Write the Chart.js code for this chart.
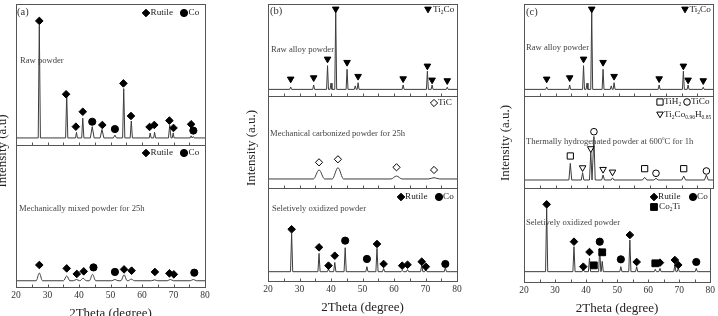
<!DOCTYPE html>
<html>
<head>
<meta charset="utf-8">
<script src="https://cdn.jsdelivr.net/npm/chart.js@4.4.0/dist/chart.umd.min.js"></script>
<style>
html, body { margin: 0; padding: 0; background: #fff; overflow: hidden; }
body { width: 718px; height: 316px; position: relative; }
canvas { position: absolute; top: 0; }
</style>
</head>
<body>
<script>
// x axis
const xTickLabels = [20, 30, 40, 50, 60, 70, 80];
const xTickMarks = [20, 25, 30, 35, 40, 45, 50, 55, 60, 65, 70, 75, 80];

// (a) raw powder
const rawPowderBase = 5;
const rawPowderPeaks = [27.4, 36.1, 39.2, 41.2, 44.2, 47.3, 51.4, 54.2, 56.6, 62.6, 64.0, 68.8, 69.9, 75.6, 76.3];
const rawPowderHeights = [85, 36, 9, 19, 13, 11, 7, 40, 17, 8.5, 9, 14, 8.5, 6.5, 6];
const rawPowderWidths = [0.35, 0.35, 0.3, 0.35, 0.6, 0.6, 0.5, 0.35, 0.35, 0.3, 0.3, 0.4, 0.3, 0.3, 0.3];
const rawPowderRutileX = [27.4, 35.9, 39.0, 41.2, 47.4, 54.1, 56.5, 62.4, 63.9, 68.7, 70.0, 75.6];
const rawPowderRutileY = [88, 36, 13, 23.6, 14.2, 43.7, 20.6, 12.8, 14.2, 17.3, 12.1, 14.7];
const rawPowderCoX = [44.2, 51.4, 76.3];
const rawPowderCoY = [16.5, 11.3, 10.2];

// (a) mechanically mixed powder
const mixedBase = 4.4;
const mixedPeaks = [27.4, 36.1, 39.2, 41.3, 44.3, 51.4, 54.3, 56.6, 64.0, 69.0, 76.3];
const mixedHeights = [9.8, 7.8, 5.3, 6.2, 8.9, 5.3, 8.6, 5.5, 5.0, 5.3, 5.3];
const mixedWidth = 1.0;
const mixedRutileX = [27.4, 36.1, 39.3, 41.5, 54.3, 56.7, 64.1, 68.7, 70.1];
const mixedRutileY = [15.5, 13.1, 9.2, 11.0, 12.4, 11.5, 10.6, 9.6, 8.9];
const mixedCoX = [44.6, 51.4, 76.6];
const mixedCoY = [13.8, 10.6, 10.1];

// (b)/(c) raw alloy powder
const alloyBase = 7.2;
const alloyPeaks = [27.2, 34.5, 38.9, 40.0, 41.5, 45.1, 47.7, 48.6, 62.9, 70.6, 72.1, 76.9];
const alloyHeights = [9.8, 12, 33, 14, 91, 29, 11, 14.5, 12, 27, 12, 9.5];
const alloyWidth = 0.3;
const alloyTi2CoX = [27.2, 34.5, 38.9, 41.5, 45.1, 48.6, 62.9, 70.6, 72.1, 76.9];
const alloyTi2CoY = [18.5, 19.9, 40.2, 94.6, 36.6, 21.4, 18.8, 32.6, 17.4, 16.7];

// (b) mechanical carbonized powder
const carbBase = 9.8;
const carbPeaks = [36.2, 42.2, 60.8, 72.7];
const carbHeights = [19.6, 22.1, 13, 11.2];
const carbWidth = 1.8;
const carbTiCX = [36.2, 42.2, 60.8, 72.7];
const carbTiCY = [27.9, 31.2, 22.5, 19.6];

// (b) selectively oxidized powder
const oxBBase = 10;
const oxBPeaks = [27.5, 36.2, 39.2, 41.2, 44.5, 51.4, 54.6, 56.7, 62.6, 64.3, 68.8, 70.1, 76.3];
const oxBHeights = [51.3, 29.7, 12.9, 20, 35.8, 15.4, 35.1, 13.6, 11.5, 12.2, 17.2, 13, 14.3];
const oxBWidth = 0.35;
const oxBRutileX = [27.5, 36.2, 39.2, 41.2, 54.6, 56.7, 62.6, 64.3, 68.8, 70.1];
const oxBRutileY = [55.6, 36.2, 16.5, 27.2, 39.8, 18.3, 16.5, 17.5, 20.8, 15.4];
const oxBCoX = [44.5, 51.4, 76.3];
const oxBCoY = [43.4, 23.7, 18.3];

// (c) thermally hydrogenated powder
const hydBase = 8.7;
const hydPeaks = [34.7, 38.6, 41.2, 42.2, 45.1, 48.1, 58.3, 61.9, 70.7, 77.9];
const hydHeights = [26.8, 16.7, 39.5, 56, 14.1, 11, 11.6, 10.5, 13, 14.1];
const hydWidths = [0.45, 0.4, 0.4, 0.4, 0.45, 0.45, 0.7, 0.7, 0.6, 0.6];
const hydTiH2X = [34.7, 58.3, 70.7];
const hydTiH2Y = [34.8, 21, 21];
const hydTiCoX = [42.2, 61.9, 77.9];
const hydTiCoY = [61.2, 16, 18.5];
const hydTi2CoHX = [38.6, 41.2, 45.1, 48.1];
const hydTi2CoHY = [22.1, 42.8, 20.3, 17.4];

// (c) selectively oxidized powder
const oxCBase = 11;
const oxCPeaks = [27.3, 36.1, 39.1, 41.1, 44.4, 45.2, 51.2, 54.1, 56.3, 62.3, 63.8, 68.6, 69.7, 75.5];
const oxCHeights = [78.4, 37.6, 13.8, 25.2, 35.8, 22, 16.3, 44.7, 16.3, 13.5, 14.5, 18.1, 14.5, 14.5];
const oxCWidth = 0.35;
const oxCRutileX = [27.3, 36.1, 39.1, 41.1, 54.1, 56.3, 63.8, 68.6, 69.7];
const oxCRutileY = [82.6, 42.9, 16.3, 31.9, 50, 21.3, 20.6, 23.4, 18.1];
const oxCCoX = [44.4, 51.2, 75.5];
const oxCCoY = [42.9, 24.1, 21.3];
const oxCCo2TiX = [42.5, 45.2, 62.3];
const oxCCo2TiY = [17.7, 31.6, 19.9];

const SERIF = "'Liberation Serif', 'Times New Roman', serif";
const H = 330;
const AXIS_H = 34;
const NOTE = 8.6;   // sample captions
const KEY = 9.2;    // legend labels

const columns = {
    a: { left: 0, width: 240, l: 16, r: 205, rows: [[4, 145], [145, 287]] },
    b: { left: 240, width: 238, l: 268, r: 457, rows: [[4, 96], [96, 188], [188, 281]] },
    c: { left: 478, width: 240, l: 524, r: 713, rows: [[4, 96], [96, 188], [188, 282]] }
};

const markStyles = {
    rutile: { ps: "rectRot", r: 3.8, fill: "#000" },
    co: { ps: "circle", r: 3.6, fill: "#000" },
    ti2co: { ps: "triangle", rot: 180, r: 3.8, fill: "#000" },
    tic: { ps: "rectRot", r: 3.6, fill: "#fff" },
    tih2: { ps: "rect", r: 4.4, fill: "#fff" },
    tico: { ps: "circle", r: 3.3, fill: "#fff" },
    ti2coh: { ps: "triangle", rot: 180, r: 3.8, fill: "#fff" },
    co2ti: { ps: "rect", r: 4.8, fill: "#000" }
};

// pattern line: baseline with each peak as foot-apex-foot
function pattern(peaks, heights, widths, base, smooth) {
    const pts = [{ x: 20, y: base }];
    peaks.forEach((p, i) => {
        const w = Array.isArray(widths) ? widths[i] : widths;
        pts.push({ x: p - w, y: base }, { x: p, y: heights[i] }, { x: p + w, y: base });
    });
    pts.push({ x: 80, y: base });
    pts.sort((a, b) => a.x - b.x);
    return {
        data: pts,
        borderColor: "#3c3c3c",
        borderWidth: 1,
        pointRadius: 0,
        tension: smooth ? 0.4 : 0,
        cubicInterpolationMode: smooth ? "monotone" : "default",
        order: 2
    };
}

function marks(xs, ys, kind) {
    const st = markStyles[kind];
    return {
        data: xs.map((x, i) => ({ x, y: ys[i] })),
        showLine: false,
        pointStyle: st.ps,
        pointRotation: st.rot || 0,
        pointRadius: st.r,
        pointBackgroundColor: st.fill,
        pointBorderColor: "#000",
        pointBorderWidth: 1,
        order: 1
    };
}

function richText(ctx, str, x, y, size, align) {
    const segs = [];
    const re = /([_^])\{([^}]*)\}/g;
    let last = 0, m;
    while ((m = re.exec(str))) {
        if (m.index > last) segs.push({ t: str.slice(last, m.index), k: "" });
        segs.push({ t: m[2], k: m[1] });
        last = re.lastIndex;
    }
    if (last < str.length) segs.push({ t: str.slice(last), k: "" });
    let total = 0;
    segs.forEach(s => {
        ctx.font = (s.k ? size * 0.6 : size) + "px " + SERIF;
        s.w = ctx.measureText(s.t).width;
        total += s.w;
    });
    let cx = align === "center" ? x - total / 2 : x;
    ctx.textAlign = "left";
    ctx.textBaseline = "middle";
    segs.forEach(s => {
        ctx.font = (s.k ? size * 0.6 : size) + "px " + SERIF;
        const dy = s.k === "_" ? size * 0.3 : s.k === "^" ? -size * 0.35 : 0;
        ctx.fillText(s.t, cx, y + dy);
        cx += s.w;
    });
}

const framePlugin = {
    id: "frame",
    afterDatasetsDraw(chart) {
        const { ctx, chartArea: a, scales: { x } } = chart;
        ctx.save();
        ctx.strokeStyle = "#555";
        ctx.lineWidth = 1;
        const L = Math.round(a.left) + 0.5, T = Math.round(a.top) + 0.5;
        const B = Math.round(a.bottom) + 0.5, R = Math.round(a.right) + 0.5;
        ctx.strokeRect(L, T, R - L, B - T);
        ctx.beginPath();
        xTickMarks.forEach(v => {
            const px = Math.round(x.getPixelForValue(v)) + 0.5;
            ctx.moveTo(px, B);
            ctx.lineTo(px, B - 3);
        });
        ctx.stroke();
        ctx.restore();
    }
};

const notesPlugin = {
    id: "notes",
    afterDraw(chart, args, opts) {
        const ctx = chart.ctx;
        const ox = opts.offsetX || 0;
        (opts.items || []).forEach(it => {
            ctx.save();
            if (it.mark) {
                const st = markStyles[it.mark];
                ctx.fillStyle = st.fill;
                ctx.strokeStyle = "#000";
                ctx.lineWidth = 1;
                Chart.helpers.drawPoint(ctx, { pointStyle: st.ps, rotation: st.rot || 0, radius: st.r, borderWidth: 1 }, it.x - ox, it.y);
            } else {
                ctx.fillStyle = it.color || "#333";
                if (it.rot) {
                    ctx.translate(it.x - ox, it.y);
                    ctx.rotate(it.rot * Math.PI / 180);
                    richText(ctx, it.text, 0, 0, it.size, "center");
                } else {
                    richText(ctx, it.text, it.x - ox, it.y, it.size || 10, it.align || "left");
                }
            }
            ctx.restore();
        });
    }
};

function addChart(key, row, datasets, notes) {
    const col = columns[key];
    const [top, bottom] = col.rows[row];
    const isBottom = row === col.rows.length - 1;
    const canvas = document.createElement("canvas");
    canvas.width = col.width;
    canvas.height = H;
    canvas.style.left = col.left + "px";
    canvas.style.width = col.width + "px";
    canvas.style.height = H + "px";
    document.body.appendChild(canvas);

    new Chart(canvas.getContext("2d"), {
        type: "line",
        data: { datasets },
        options: {
            responsive: false,
            animation: false,
            events: [],
            layout: {
                autoPadding: false,
                padding: {
                    left: col.l - col.left,
                    right: col.left + col.width - col.r,
                    top: top,
                    bottom: H - bottom - (isBottom ? AXIS_H : 0)
                }
            },
            plugins: {
                legend: { display: false },
                tooltip: { enabled: false },
                notes: { items: notes, offsetX: col.left }
            },
            scales: {
                x: {
                    type: "linear",
                    min: 20,
                    max: 80,
                    display: isBottom,
                    grid: { display: false, drawTicks: false },
                    border: { display: false },
                    afterBuildTicks: s => { s.ticks = xTickLabels.map(v => ({ value: v })); },
                    afterFit: s => { s.height = isBottom ? AXIS_H : 0; },
                    ticks: { padding: 3, color: "#333", font: { family: SERIF, size: 9.5 } },
                    title: {
                        display: true,
                        text: "2Theta (degree)",
                        padding: 0,
                        color: "#222",
                        font: { family: SERIF, size: 13 }
                    }
                },
                y: { min: 0, max: 100, display: false }
            }
        },
        plugins: [framePlugin, notesPlugin]
    });
}

// panel (a)
addChart("a", 0, [
    pattern(rawPowderPeaks, rawPowderHeights, rawPowderWidths, rawPowderBase, false),
    marks(rawPowderRutileX, rawPowderRutileY, "rutile"),
    marks(rawPowderCoX, rawPowderCoY, "co")
], [
    { text: "(a)", x: 17, y: 12, size: 10.5 },
    { mark: "rutile", x: 146, y: 13 },
    { text: "Rutile", x: 150.5, y: 13, size: KEY, color: "#222" },
    { mark: "co", x: 184, y: 13 },
    { text: "Co", x: 188.5, y: 13, size: KEY, color: "#222" },
    { text: "Raw powder", x: 20, y: 61, size: NOTE, color: "#444" }
]);
addChart("a", 1, [
    pattern(mixedPeaks, mixedHeights, mixedWidth, mixedBase, true),
    marks(mixedRutileX, mixedRutileY, "rutile"),
    marks(mixedCoX, mixedCoY, "co")
], [
    { mark: "rutile", x: 146, y: 153 },
    { text: "Rutile", x: 150.5, y: 153, size: KEY, color: "#222" },
    { mark: "co", x: 184, y: 153 },
    { text: "Co", x: 188.5, y: 153, size: KEY, color: "#222" },
    { text: "Mechanically mixed powder for 25h", x: 19, y: 209, size: NOTE, color: "#444" },
    { text: "Intensity (a.u)", x: 3, y: 151, size: 13, rot: -90, color: "#222" }
]);

// panel (b)
addChart("b", 0, [
    pattern(alloyPeaks, alloyHeights, alloyWidth, alloyBase, false),
    marks(alloyTi2CoX, alloyTi2CoY, "ti2co")
], [
    { text: "(b)", x: 270, y: 11, size: 10.5 },
    { mark: "ti2co", x: 428, y: 9 },
    { text: "Ti_{2}Co", x: 433, y: 10, size: KEY, color: "#222" },
    { text: "Raw alloy powder", x: 271, y: 50, size: NOTE, color: "#444" }
]);
addChart("b", 1, [
    pattern(carbPeaks, carbHeights, carbWidth, carbBase, true),
    marks(carbTiCX, carbTiCY, "tic")
], [
    { mark: "tic", x: 434, y: 103 },
    { text: "TiC", x: 438, y: 103, size: KEY, color: "#222" },
    { text: "Mechanical carbonized powder for 25h", x: 270, y: 134, size: NOTE, color: "#444" }
]);
addChart("b", 2, [
    pattern(oxBPeaks, oxBHeights, oxBWidth, oxBBase, false),
    marks(oxBRutileX, oxBRutileY, "rutile"),
    marks(oxBCoX, oxBCoY, "co")
], [
    { mark: "rutile", x: 401, y: 197 },
    { text: "Rutile", x: 405, y: 197, size: KEY, color: "#222" },
    { mark: "co", x: 439, y: 197 },
    { text: "Co", x: 443, y: 197, size: KEY, color: "#222" },
    { text: "Seletively oxidized powder", x: 272, y: 209, size: NOTE, color: "#444" },
    { text: "Intensity (a.u.)", x: 252, y: 148, size: 13, rot: -90, color: "#222" }
]);

// panel (c)
addChart("c", 0, [
    pattern(alloyPeaks, alloyHeights, alloyWidth, alloyBase, false),
    marks(alloyTi2CoX, alloyTi2CoY, "ti2co")
], [
    { text: "(c)", x: 526, y: 12, size: 10.5 },
    { mark: "ti2co", x: 685, y: 9 },
    { text: "Ti_{2}Co", x: 689.5, y: 10, size: KEY, color: "#222" },
    { text: "Raw alloy powder", x: 526, y: 48, size: NOTE, color: "#444" }
]);
addChart("c", 1, [
    pattern(hydPeaks, hydHeights, hydWidths, hydBase, false),
    marks(hydTiH2X, hydTiH2Y, "tih2"),
    marks(hydTiCoX, hydTiCoY, "tico"),
    marks(hydTi2CoHX, hydTi2CoHY, "ti2coh")
], [
    { mark: "tih2", x: 660, y: 102 },
    { text: "TiH_{2}", x: 664, y: 102, size: KEY, color: "#222" },
    { mark: "tico", x: 687, y: 102 },
    { text: "TiCo", x: 691, y: 102, size: KEY, color: "#222" },
    { mark: "ti2coh", x: 660, y: 114 },
    { text: "Ti_{2}Co_{0.96}H_{0.85}", x: 664, y: 115, size: KEY, color: "#222" },
    { text: "Thermally hydrogenated powder at 600^{o}C for 1h", x: 526, y: 142, size: NOTE, color: "#444" }
]);
addChart("c", 2, [
    pattern(oxCPeaks, oxCHeights, oxCWidth, oxCBase, false),
    marks(oxCRutileX, oxCRutileY, "rutile"),
    marks(oxCCoX, oxCCoY, "co"),
    marks(oxCCo2TiX, oxCCo2TiY, "co2ti")
], [
    { mark: "rutile", x: 654, y: 197 },
    { text: "Rutile", x: 658, y: 197, size: KEY, color: "#222" },
    { mark: "co", x: 693, y: 197 },
    { text: "Co", x: 697, y: 197, size: KEY, color: "#222" },
    { mark: "co2ti", x: 654, y: 207 },
    { text: "Co_{2}Ti", x: 659, y: 207, size: KEY, color: "#222" },
    { text: "Seletively oxidized powder", x: 526, y: 223, size: NOTE, color: "#444" },
    { text: "Intensity (a.u.)", x: 506, y: 143, size: 13, rot: -90, color: "#222" }
]);
</script>
</body>
</html>
